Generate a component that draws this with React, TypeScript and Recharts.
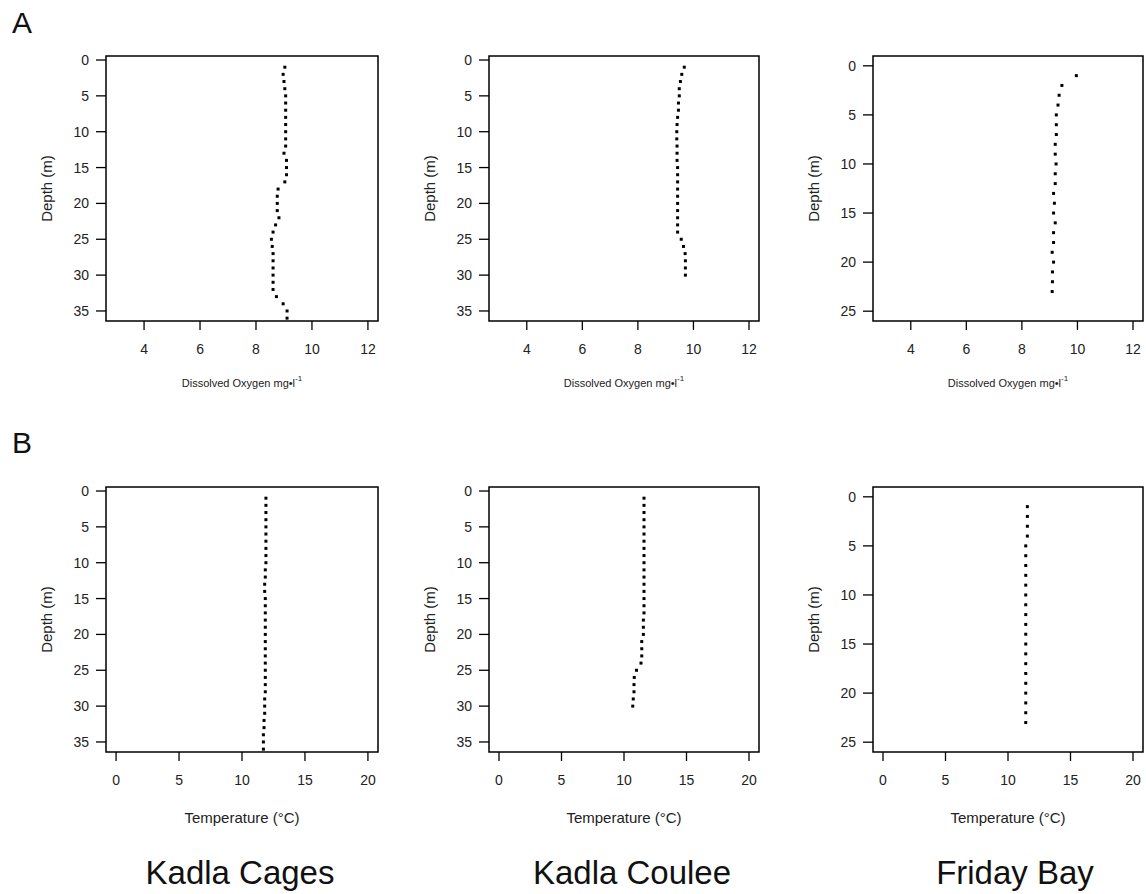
import React from 'react'
import { ScatterChart, Scatter, XAxis, YAxis, ReferenceArea } from 'recharts'

const FONT = '"Liberation Sans", Arial, sans-serif'

// depths (m) for each site profile
const DEPTH_KADLA_CAGES = [1, 2, 3, 4, 5, 6, 7, 8, 9, 10, 11, 12, 13, 14, 15, 16, 17, 18, 19, 20, 21, 22, 23, 24, 25, 26, 27, 28, 29, 30, 31, 32, 33, 34, 35, 36]
const DEPTH_KADLA_COULEE = [1, 2, 3, 4, 5, 6, 7, 8, 9, 10, 11, 12, 13, 14, 15, 16, 17, 18, 19, 20, 21, 22, 23, 24, 25, 26, 27, 28, 29, 30]
const DEPTH_FRIDAY_BAY = [1, 2, 3, 4, 5, 6, 7, 8, 9, 10, 11, 12, 13, 14, 15, 16, 17, 18, 19, 20, 21, 22, 23]

// dissolved oxygen mg/l
const DO_KADLA_CAGES = [9.03, 8.97, 9.0, 9.03, 9.06, 9.06, 9.06, 9.06, 9.06, 9.06, 9.06, 9.06, 9.0, 9.09, 9.09, 9.09, 9.03, 8.79, 8.76, 8.76, 8.76, 8.82, 8.7, 8.61, 8.55, 8.58, 8.61, 8.61, 8.61, 8.61, 8.61, 8.61, 8.73, 8.97, 9.11, 9.11]
const DO_KADLA_COULEE = [9.67, 9.58, 9.53, 9.49, 9.49, 9.46, 9.46, 9.43, 9.41, 9.4, 9.4, 9.41, 9.41, 9.41, 9.43, 9.43, 9.43, 9.43, 9.43, 9.43, 9.43, 9.43, 9.43, 9.43, 9.56, 9.64, 9.7, 9.71, 9.71, 9.71]
const DO_FRIDAY_BAY = [9.96, 9.44, 9.34, 9.3, 9.24, 9.24, 9.24, 9.2, 9.2, 9.23, 9.2, 9.2, 9.14, 9.17, 9.14, 9.2, 9.14, 9.14, 9.09, 9.14, 9.1, 9.1, 9.09]

// temperature degC
const TEMP_KADLA_CAGES = [11.9, 11.9, 11.9, 11.9, 11.9, 11.9, 11.9, 11.9, 11.9, 11.9, 11.85, 11.85, 11.8, 11.8, 11.85, 11.85, 11.85, 11.85, 11.85, 11.85, 11.85, 11.85, 11.85, 11.85, 11.85, 11.85, 11.85, 11.85, 11.8, 11.8, 11.8, 11.75, 11.75, 11.7, 11.7, 11.7]
const TEMP_KADLA_COULEE = [11.6, 11.6, 11.6, 11.6, 11.6, 11.6, 11.6, 11.6, 11.6, 11.6, 11.6, 11.6, 11.6, 11.6, 11.6, 11.6, 11.6, 11.55, 11.55, 11.55, 11.42, 11.42, 11.42, 11.36, 11.0, 10.82, 10.8, 10.8, 10.74, 10.7]
const TEMP_FRIDAY_BAY = [11.55, 11.55, 11.55, 11.55, 11.42, 11.42, 11.42, 11.42, 11.42, 11.42, 11.42, 11.42, 11.42, 11.42, 11.42, 11.42, 11.42, 11.42, 11.42, 11.42, 11.42, 11.42, 11.42]

const SITES = ['Kadla Cages', 'Kadla Coulee', 'Friday Bay']
const DO_TICKS = [4, 6, 8, 10, 12]
const TEMP_TICKS = [0, 5, 10, 15, 20]
const DEPTH_TICKS_36 = [0, 5, 10, 15, 20, 25, 30, 35]
const DEPTH_TICKS_25 = [0, 5, 10, 15, 20, 25]

const COL_X = [106, 489, 873]
const COL_W = [272, 270, 270]
const ROW_Y = [56, 487]
const BOX_H = 265

const toPoints = (xs: number[], depths: number[]) => depths.map((d, i) => ({ x: xs[i], y: d }))

const Dot = (props: any) => {
  const { cx, cy } = props
  if (cx == null || cy == null) return null
  return <rect x={cx - 1.5} y={cy - 1.5} width={3} height={3} fill="#000" />
}

interface PanelProps {
  left: number
  top: number
  w: number
  data: { x: number; y: number }[]
  xDomain: [number, number]
  xTicks: number[]
  yDomain: [number, number]
  yTicks: number[]
  xTitle: 'do' | 'temp'
}

function Panel({ left, top, w, data, xDomain, xTicks, yDomain, yTicks, xTitle }: PanelProps) {
  const yAxisW = 80
  const xAxisH = 80
  const titleDy = xTitle === 'do' ? 62 : 65

  return (
    <div style={{ position: 'absolute', left: left - yAxisW, top: top - 10 }}>
      <ScatterChart
        width={w + yAxisW + 10}
        height={BOX_H + 10 + xAxisH}
        margin={{ top: 10, right: 10, bottom: 0, left: 0 }}
      >
        <XAxis
          type="number"
          dataKey="x"
          domain={xDomain}
          ticks={xTicks}
          allowDataOverflow
          height={xAxisH}
          axisLine={false}
          tickSize={9}
          tickMargin={14}
          tickLine={{ stroke: '#000', strokeWidth: 1.3 }}
          tick={{ fill: '#222', fontSize: 14, fontFamily: FONT }}
          label={(p: any) => {
            const vb = p.viewBox
            const cx = vb.x + vb.width / 2
            const cy = vb.y + titleDy
            return xTitle === 'do' ? (
              <text x={cx} y={cy} textAnchor="middle" dominantBaseline="central" fontSize={11} fontFamily={FONT} fill="#222">
                Dissolved Oxygen mg•l
                <tspan fontSize={8} dy={-5}>-1</tspan>
              </text>
            ) : (
              <text x={cx} y={cy} textAnchor="middle" dominantBaseline="central" fontSize={15} fontFamily={FONT} fill="#222">
                Temperature (°C)
              </text>
            )
          }}
        />
        <YAxis
          type="number"
          dataKey="y"
          reversed
          domain={yDomain}
          ticks={yTicks}
          allowDataOverflow
          width={yAxisW}
          axisLine={false}
          tickSize={10}
          tickMargin={7}
          tickLine={{ stroke: '#000', strokeWidth: 1.3 }}
          tick={{ fill: '#222', fontSize: 14, fontFamily: FONT }}
          label={(p: any) => {
            const vb = p.viewBox
            const cx = vb.x + 20
            const cy = vb.y + vb.height / 2
            return (
              <text x={cx} y={cy} transform={`rotate(-90 ${cx} ${cy})`} textAnchor="middle" dominantBaseline="central" fontSize={15} fontFamily={FONT} fill="#222">
                Depth (m)
              </text>
            )
          }}
        />
        <ReferenceArea
          x1={xDomain[0]}
          x2={xDomain[1]}
          y1={yDomain[0]}
          y2={yDomain[1]}
          fill="none"
          fillOpacity={0}
          stroke="#000"
          strokeWidth={1.5}
          ifOverflow="visible"
        />
        <Scatter data={data} shape={Dot} isAnimationActive={false} />
      </ScatterChart>
    </div>
  )
}

export default function App() {
  const doDomain: [number, number] = [2.64, 12.36]
  const tDomain: [number, number] = [-0.8, 20.8]
  const deep: [number, number] = [-0.56, 36.4]
  const shallow: [number, number] = [-1.0, 26]

  const doSeries = [
    toPoints(DO_KADLA_CAGES, DEPTH_KADLA_CAGES),
    toPoints(DO_KADLA_COULEE, DEPTH_KADLA_COULEE),
    toPoints(DO_FRIDAY_BAY, DEPTH_FRIDAY_BAY),
  ]
  const tempSeries = [
    toPoints(TEMP_KADLA_CAGES, DEPTH_KADLA_CAGES),
    toPoints(TEMP_KADLA_COULEE, DEPTH_KADLA_COULEE),
    toPoints(TEMP_FRIDAY_BAY, DEPTH_FRIDAY_BAY),
  ]
  const yDomains = [deep, deep, shallow]
  const yTicks = [DEPTH_TICKS_36, DEPTH_TICKS_36, DEPTH_TICKS_25]
  const siteCenters = [240, 632, 1015]

  return (
    <div style={{ position: 'absolute', left: 0, top: 0, width: 1146, height: 894, background: '#fff', fontFamily: FONT }}>
      <div style={{ position: 'absolute', left: 12, top: 8, fontSize: 30, lineHeight: '30px', color: '#111' }}>A</div>
      <div style={{ position: 'absolute', left: 12, top: 428, fontSize: 30, lineHeight: '30px', color: '#111' }}>B</div>

      {doSeries.map((d, i) => (
        <Panel key={`do-${i}`} left={COL_X[i]} top={ROW_Y[0]} w={COL_W[i]} data={d}
          xDomain={doDomain} xTicks={DO_TICKS} yDomain={yDomains[i]} yTicks={yTicks[i]} xTitle="do" />
      ))}
      {tempSeries.map((d, i) => (
        <Panel key={`t-${i}`} left={COL_X[i]} top={ROW_Y[1]} w={COL_W[i]} data={d}
          xDomain={tDomain} xTicks={TEMP_TICKS} yDomain={yDomains[i]} yTicks={yTicks[i]} xTitle="temp" />
      ))}

      {SITES.map((s, i) => (
        <div key={s} style={{ position: 'absolute', left: siteCenters[i] - 150, width: 300, top: 855, textAlign: 'center', fontSize: 33, lineHeight: '36px', color: '#111' }}>
          {s}
        </div>
      ))}
    </div>
  )
}
